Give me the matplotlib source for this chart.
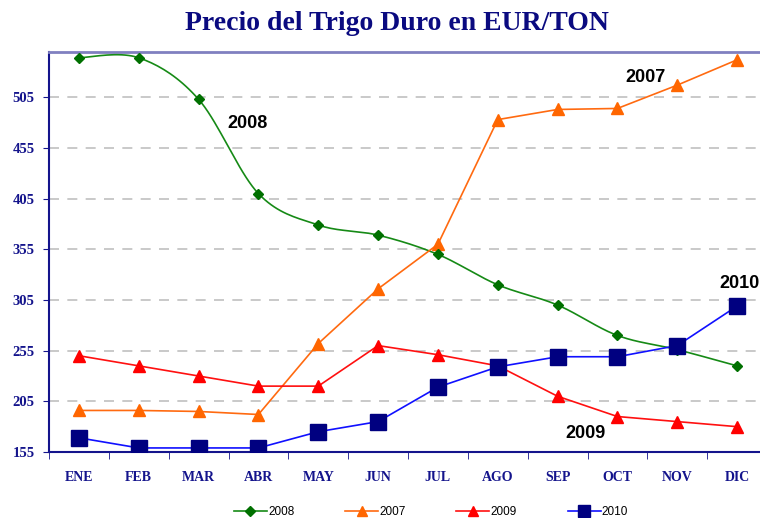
import numpy as np
import matplotlib
matplotlib.use("Agg")
import matplotlib.pyplot as plt
from matplotlib.lines import Line2D

months = ["ENE", "FEB", "MAR", "ABR", "MAY", "JUN", "JUL", "AGO", "SEP", "OCT", "NOV", "DIC"]
y2008 = [544, 544, 503, 410, 379, 369, 350, 320, 300, 270, 256, 240]
y2007 = [196, 196, 195, 192, 262, 316, 360, 483, 493, 494, 517, 542]
y2009 = [250, 240, 230, 220, 220, 260, 251, 240, 210, 190, 185, 180]
y2010 = [169, 159, 159, 159, 175, 185, 219, 239, 249, 249, 260, 299]
yticks = [155, 205, 255, 305, 355, 405, 455, 505]

NAVY = "#14148C"


def smooth(xs, ys, n=20):
    xs = np.asarray(xs, float)
    ys = np.asarray(ys, float)
    px, py = [], []
    for i in range(len(xs) - 1):
        p0 = (xs[max(i - 1, 0)], ys[max(i - 1, 0)])
        p1 = (xs[i], ys[i])
        p2 = (xs[i + 1], ys[i + 1])
        p3 = (xs[min(i + 2, len(xs) - 1)], ys[min(i + 2, len(xs) - 1)])
        c1 = (p1[0] + (p2[0] - p0[0]) / 6, p1[1] + (p2[1] - p0[1]) / 6)
        c2 = (p2[0] - (p3[0] - p1[0]) / 6, p2[1] - (p3[1] - p1[1]) / 6)
        t = np.linspace(0, 1, n)
        bx = (1 - t) ** 3 * p1[0] + 3 * (1 - t) ** 2 * t * c1[0] + 3 * (1 - t) * t ** 2 * c2[0] + t ** 3 * p2[0]
        by = (1 - t) ** 3 * p1[1] + 3 * (1 - t) ** 2 * t * c1[1] + 3 * (1 - t) * t ** 2 * c2[1] + t ** 3 * p2[1]
        px.extend(bx)
        py.extend(by)
    return px, py


fig = plt.figure(figsize=(7.6, 5.18), dpi=100)
ax = fig.add_axes([49 / 760, 66 / 518, 718 / 760, 400.3 / 518])
x = np.arange(len(months))

sx, sy = smooth(x, y2008)
ax.plot(sx, sy, color="#168A16", lw=1.2, zorder=3)
ax.plot(x, y2008, ls="none", marker="D", ms=5.5, color="#007000", zorder=4)

ax.plot(x, y2007, color="#FF6A10", lw=1.2, marker="^", ms=8, mfc="#FF6600", mec="#FF6600", zorder=3)
ax.plot(x, y2009, color="#FF1010", lw=1.2, marker="^", ms=8, mfc="#FF0000", mec="#FF0000", zorder=3)
ax.plot(x, y2010, color="#1010FF", lw=1.2, marker="s", ms=11, mfc="#000080", mec="#000080", zorder=5)

ax.set_xlim(-0.5, 11.5)
ax.set_ylim(155, 550)
ax.set_yticks(yticks)
ax.set_yticklabels([str(v) for v in yticks], fontfamily="Liberation Serif", fontweight="bold",
                   fontsize=10.5, color=NAVY)
ax.set_xticks(x)
ax.set_xticklabels(months, fontfamily="Liberation Serif", fontweight="bold", fontsize=10, color=NAVY)
ax.set_xticks(np.arange(-0.5, 12, 1), minor=True)
ax.tick_params(axis="x", which="major", length=0, pad=14)
ax.tick_params(axis="x", which="minor", length=5, color=NAVY, direction="out")
ax.tick_params(axis="y", length=4.5, color=NAVY, pad=6)
for v in yticks[1:]:
    ax.axhline(v, color="#C0C0C0", lw=1.2, ls=(0, (6, 5)), zorder=1)

ax.spines["left"].set_color(NAVY)
ax.spines["bottom"].set_color(NAVY)
ax.spines["left"].set_linewidth(1.5)
ax.spines["bottom"].set_linewidth(1.5)
ax.spines["top"].set_color("#8080C0")
ax.spines["top"].set_linewidth(2)
ax.spines["right"].set_visible(False)

fig.text(397 / 760, 1 - 23 / 518, "Precio del Trigo Duro en EUR/TON", ha="center", va="center",
         fontfamily="Liberation Serif", fontweight="bold", fontsize=20, color="#0A0A80")

lab_kw = dict(fontfamily="Liberation Sans", fontweight="bold", fontsize=13, color="black",
              ha="center", va="center")
fig.text(247 / 760, 1 - 123 / 518, "2008", **lab_kw)
fig.text(646 / 760, 1 - 77 / 518, "2007", **lab_kw)
fig.text(739 / 760, 1 - 284 / 518, "2010", **lab_kw)
fig.text(586 / 760, 1 - 434 / 518, "2009", **lab_kw)

handles = [
    Line2D([], [], color="#168A16", lw=1.2, marker="D", ms=5, mfc="#007000", mec="#007000"),
    Line2D([], [], color="#FF6A10", lw=1.2, marker="^", ms=7, mfc="#FF6600", mec="#FF6600"),
    Line2D([], [], color="#FF1010", lw=1.2, marker="^", ms=7, mfc="#FF0000", mec="#FF0000"),
    Line2D([], [], color="#1010FF", lw=1.2, marker="s", ms=9, mfc="#000080", mec="#000080"),
]
fig.legend(handles, ["2008", "2007", "2009", "2010"], loc="center", bbox_to_anchor=(431 / 760, 1 - 512 / 518),
           ncol=4, frameon=False, prop={"family": "Liberation Sans", "size": 8.5},
           handlelength=2.8, handletextpad=0.1, columnspacing=4.3)

fig.savefig("out.png", dpi=100)
